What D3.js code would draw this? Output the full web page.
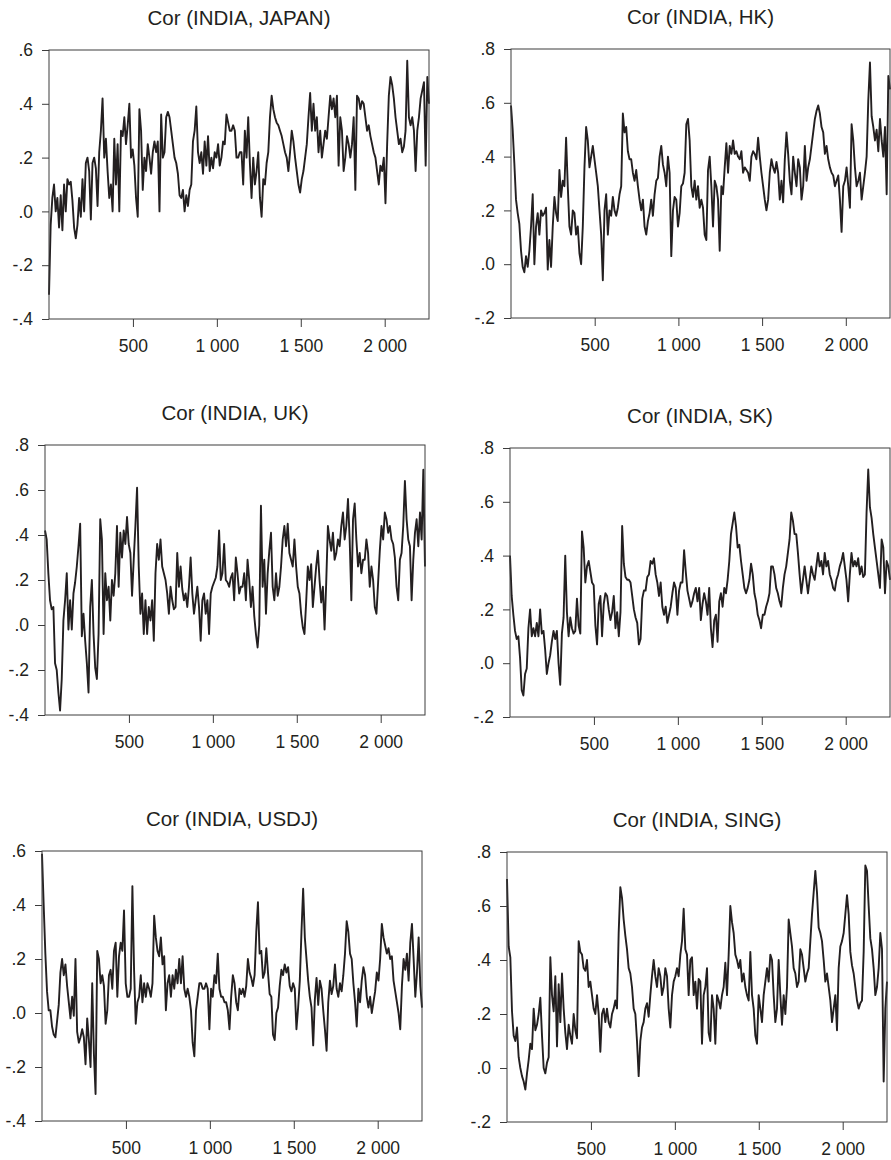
<!DOCTYPE html>
<html>
<head>
<meta charset="utf-8">
<script src="https://cdn.jsdelivr.net/npm/d3@7"></script>
<style>
  body { margin: 0; background: #fff; }
  svg { display: block; font-family: "Liberation Sans", Arial, sans-serif; }
  .frame { fill: none; stroke: #3c3c3c; stroke-width: 1; }
  .series { fill: none; stroke: #231f20; stroke-width: 1.9; stroke-linejoin: round; }
  .title { font-size: 20.5px; fill: #231f20; }
  .tick text { font-size: 17.5px; fill: #231f20; }
  .tick line { stroke: #3c3c3c; }
</style>
</head>
<body>
<script>
// Rolling correlations of INDIA with six markets (one value every ~10 obs)
var titles = ["Cor (INDIA, JAPAN)", "Cor (INDIA, HK)", "Cor (INDIA, UK)",
              "Cor (INDIA, SK)", "Cor (INDIA, USDJ)", "Cor (INDIA, SING)"];
var yDomains = [[-0.4, 0.6], [-0.2, 0.8], [-0.4, 0.8], [-0.2, 0.8], [-0.4, 0.6], [-0.2, 0.8]];
var xTicks = [500, 1000, 1500, 2000];
var xTickLabels = ["500", "1 000", "1 500", "2 000"];
var nObs = 2264;

var japan = [-.31,-.05,.05,.1,.0,.05,-.06,.06,-.07,.1,.0,.12,.1,.11,.04,-.06,-.1,-.05,.05,-.02,.12,.0,.18,.2,.15,-.03,.18,.2,.16,.02,.22,.3,.42,.2,.27,.15,.05,.1,.0,.27,.1,.25,.0,.3,.28,.35,.25,.32,.4,.2,.23,.17,.05,-.02,.38,.3,.08,.2,.15,.25,.2,.14,.22,.26,.22,.26,.0,.36,.2,.22,.35,.37,.35,.3,.25,.2,.18,.14,.06,.05,.08,.0,.06,.02,.08,.1,.26,.3,.39,.22,.18,.22,.14,.26,.17,.28,.15,.2,.16,.22,.2,.25,.17,.2,.26,.25,.36,.33,.3,.3,.32,.3,.2,.2,.22,
  .22,.1,.3,.2,.35,.18,.05,.2,.1,.15,.22,.05,-.02,.12,.1,.18,.22,.35,.43,.38,.35,.33,.32,.3,.28,.25,.22,.2,.15,.22,.3,.26,.2,.15,.1,.07,.12,.15,.2,.25,.35,.44,.3,.4,.3,.35,.22,.3,.2,.25,.3,.27,.35,.43,.38,.42,.35,.43,.17,.35,.3,.15,.2,.28,.25,.2,.25,.35,.08,.43,.42,.38,.41,.4,.35,.3,.32,.28,.25,.22,.2,.15,.1,.17,.15,.2,.03,.25,.43,.5,.47,.42,.35,.3,.25,.27,.22,.24,.3,.56,.35,.32,.35,.3,.15,.3,.35,.42,.45,.48,.17,.5,.4];

var hk = [.59,.5,.375,.24,.19,.15,.05,-.01,-.03,.03,-.01,.05,.14,.26,.0,.14,.19,.11,.2,.18,.19,.21,-.02,.09,-.01,.14,.25,.19,.16,.35,.25,.31,.29,.47,.29,.14,.11,.2,.19,.11,.14,.04,.0,.14,.36,.51,.46,.36,.4,.44,.39,.34,.29,.2,.11,-.06,.2,.26,.11,.2,.18,.25,.2,.18,.21,.26,.29,.56,.49,.51,.42,.39,.39,.34,.31,.35,.29,.24,.2,.24,.14,.11,.16,.19,.24,.18,.26,.31,.32,.4,.44,.37,.34,.29,.4,.34,.03,.2,.25,.24,.14,.19,.29,.3,.34,.52,.54,.46,
  .29,.25,.31,.24,.29,.21,.24,.21,.11,.09,.35,.4,.29,.14,.31,.29,.24,.05,.29,.26,.36,.45,.34,.44,.41,.46,.41,.42,.4,.39,.42,.34,.36,.35,.34,.31,.4,.42,.41,.39,.47,.4,.34,.29,.24,.2,.24,.34,.39,.36,.34,.38,.34,.24,.31,.23,.39,.49,.41,.31,.26,.4,.34,.29,.39,.36,.24,.29,.44,.31,.36,.39,.44,.49,.54,.57,.59,.56,.51,.49,.41,.44,.39,.36,.34,.33,.29,.31,.33,.24,.12,.29,.31,.36,.29,.21,.52,.46,.36,.29,.31,.34,.24,.29,.34,.4,.61,.75,.55,.51,.46,.5,.42,.54,.46,.4,.51,.26,.7,.65];

var uk = [.42,.38,.23,.11,.07,.08,-.17,-.2,-.3,-.38,-.24,.02,.11,.23,-.02,.11,-.02,.14,.19,.26,.35,.45,-.05,.05,-.07,-.17,-.3,.08,.2,-.04,-.19,-.24,-.04,.47,.38,-.04,.23,.11,.17,.02,.2,.13,.23,.44,.17,.41,.3,.42,.36,.48,.36,.32,.13,.29,.44,.61,.26,.05,.14,-.04,.11,-.04,.08,.02,.11,-.07,.23,.36,.29,.38,.26,.23,.2,.14,.05,.17,.11,.07,.08,.32,.17,.26,.16,.11,.14,.08,.17,.3,.14,.05,.11,.17,.08,-.07,.11,.14,.05,.11,-.04,.14,.17,.19,.21,.26,.42,.2,.23,.36,.2,.19,.17,.21,.23,.11,.3,.23,.14,.17,
  .17,.23,.11,.29,.2,.08,.17,.04,-.04,-.1,.0,.53,.17,.29,.05,.23,.33,.41,.17,.11,.23,.13,.17,.26,.38,.44,.35,.45,.32,.29,.26,.38,.26,.17,.14,.05,-.01,-.04,.1,.26,.2,.27,.08,.17,.26,.33,.2,.1,.17,-.02,.19,.44,.38,.33,.41,.29,.32,.38,.35,.44,.5,.38,.44,.56,.38,.11,.47,.54,.38,.26,.32,.23,.29,.29,.38,.32,.17,.26,.2,.08,.05,.19,.33,.44,.38,.5,.47,.41,.44,.38,.36,.3,.17,.11,.29,.32,.44,.64,.47,.38,.35,.11,.29,.41,.47,.35,.5,.38,.69,.26];

var sk = [.4,.25,.18,.12,.09,.1,.02,-.1,-.12,-.04,-.02,.13,.2,.1,.13,.1,.15,.1,.2,.11,.12,.05,-.04,.0,.03,.08,.12,.09,.12,.0,-.08,.11,.17,.4,.19,.1,.17,.13,.11,.12,.24,.14,.11,.49,.43,.3,.36,.38,.34,.3,.29,.14,.07,.22,.25,.1,.22,.26,.25,.2,.16,.19,.25,.13,.19,.1,.19,.51,.37,.32,.31,.31,.3,.25,.2,.17,.15,.07,.09,.24,.27,.27,.32,.33,.38,.37,.39,.33,.3,.25,.3,.21,.18,.21,.15,.18,.21,.26,.3,.28,.18,.27,.3,.3,.42,.34,.27,.24,.21,
  .23,.26,.28,.23,.28,.16,.22,.26,.23,.18,.28,.13,.06,.16,.18,.08,.23,.26,.21,.28,.26,.31,.38,.48,.52,.56,.51,.43,.44,.38,.33,.28,.26,.28,.31,.37,.33,.26,.23,.18,.16,.13,.18,.18,.21,.23,.26,.36,.36,.33,.28,.26,.23,.21,.28,.33,.36,.41,.46,.56,.53,.48,.48,.41,.33,.26,.31,.36,.31,.26,.31,.36,.33,.31,.36,.41,.36,.38,.33,.41,.36,.38,.33,.31,.28,.27,.31,.33,.36,.38,.41,.36,.31,.23,.33,.41,.36,.38,.36,.39,.33,.36,.32,.33,.56,.72,.58,.54,.48,.43,.38,.33,.28,.46,.43,.26,.38,.36,.31];

var usdj = [.59,.4,.22,.08,.01,.01,-.05,-.08,-.09,-.03,.03,.15,.2,.14,.18,.1,.04,-.02,.06,-.01,.2,-.07,-.11,-.09,-.06,-.09,-.19,-.02,-.1,-.2,.11,-.15,-.3,.23,.2,.11,.14,.1,-.04,.01,.14,.16,.09,.23,.26,.06,.21,.26,.23,.38,.11,.06,.06,.09,.47,.16,-.04,.04,.06,.14,.04,.11,.06,.11,.09,.06,.11,.36,.28,.23,.21,.28,.18,.21,.01,.11,.14,.06,.14,.09,.16,.11,.2,.11,.21,.09,.06,.09,.06,.01,-.11,-.16,.01,.06,.11,.11,.09,.09,.11,.09,-.06,.09,.06,.14,.11,.22,.09,.06,.06,.04,.04,.01,-.06,.06,.14,.11,.04,.01,.09,
  .07,.09,.06,.1,.2,.15,.13,.1,.14,.3,.41,.22,.23,.13,.15,.24,.15,.07,.06,-.08,-.1,.0,.02,.1,.16,.14,.18,.15,.17,.1,.08,.11,.09,-.06,.02,.12,.3,.46,.28,.2,.12,.06,.02,-.12,.05,.13,.03,.12,.09,.01,-.06,-.14,.04,.12,.07,.1,.18,.09,.06,.11,.08,.14,.22,.34,.3,.22,.2,.11,.04,-.05,.09,.04,.12,.17,.14,.06,.02,.06,.0,.04,.08,.15,.12,.2,.33,.28,.25,.22,.24,.2,.21,.12,.08,.04,.0,-.06,.1,.2,.16,.22,.12,.26,.33,.2,.06,.15,.28,.1,.02];

var sing = [.7,.45,.41,.21,.12,.1,.15,.04,.0,-.03,-.05,-.08,-.02,.03,.09,.07,.22,.14,.16,.2,.26,.12,.0,-.02,.02,.04,.41,.27,.21,.34,.08,.31,.17,.35,.22,.13,.07,.16,.12,.09,.2,.14,.11,.47,.43,.42,.37,.36,.4,.3,.32,.27,.22,.2,.27,.2,.06,.2,.22,.17,.22,.17,.15,.2,.22,.25,.22,.5,.67,.63,.55,.49,.44,.37,.35,.3,.22,.2,.1,-.03,.1,.15,.17,.22,.24,.19,.27,.34,.4,.34,.3,.37,.34,.27,.3,.37,.34,.22,.15,.27,.32,.34,.37,.34,.42,.47,.59,.44,.42,.27,
  .4,.41,.27,.32,.22,.33,.32,.09,.27,.3,.37,.13,.1,.27,.22,.09,.27,.25,.22,.27,.3,.39,.27,.42,.6,.54,.5,.42,.4,.37,.4,.32,.35,.3,.27,.25,.43,.27,.22,.12,.09,.27,.22,.17,.27,.32,.37,.32,.42,.4,.27,.17,.22,.4,.27,.16,.27,.2,.3,.55,.5,.45,.37,.35,.3,.32,.44,.42,.37,.32,.35,.37,.47,.57,.65,.73,.65,.52,.5,.47,.4,.32,.35,.3,.25,.17,.22,.27,.14,.37,.45,.47,.5,.57,.64,.57,.43,.38,.35,.3,.25,.22,.24,.25,.43,.75,.73,.6,.48,.44,.37,.27,.3,.37,.5,.44,-.05,.22,.32];

var series = [japan, hk, uk, sk, usdj, sing];

// Frame box of every panel, in pixels
var boxes = [
  {left: 49, top: 50, right: 429, bottom: 319},
  {left: 511, top: 49, right: 890, bottom: 318},
  {left: 45, top: 445, right: 425, bottom: 715},
  {left: 510, top: 448, right: 890, bottom: 717},
  {left: 42, top: 851, right: 422, bottom: 1121},
  {left: 507, top: 852, right: 887, bottom: 1122}
];

var svg = d3.select("body")
            .append("svg")
            .attr("width", 891)
            .attr("height", 1160);

function yLabel(d) {
  var v = Math.round(d * 10) / 10;
  return (v < 0 ? "-" : "") + Math.abs(v).toFixed(1).replace(/^0/, "");
}

function drawPanel(values, title, yDomain, box) {
  var g = svg.append("g");

  var scaleX = d3.scaleLinear()
                 .domain([0, nObs])
                 .range([box.left, box.right]);
  var scaleY = d3.scaleLinear()
                 .domain(yDomain)
                 .range([box.bottom, box.top]);

  var step = nObs / (values.length - 1);
  var line = d3.line()
               .x(function(d, i) { return scaleX(i * step); })
               .y(function(d) { return scaleY(d); });

  g.append("path")
   .datum(values)
   .attr("class", "series")
   .attr("d", line);

  g.append("rect")
   .attr("class", "frame")
   .attr("x", box.left)
   .attr("y", box.top)
   .attr("width", box.right - box.left)
   .attr("height", box.bottom - box.top);

  // y-axis
  var yTicks = d3.range(Math.round(yDomain[0] * 10), Math.round(yDomain[1] * 10) + 1, 2)
                 .map(function(d) { return d / 10; });
  var yAxis = d3.axisLeft(scaleY)
                .tickValues(yTicks)
                .tickSize(7)
                .tickPadding(9)
                .tickFormat(yLabel);
  g.append("g")
   .attr("transform", "translate(" + box.left + ",0)")
   .call(yAxis)
   .call(function(a) { a.select(".domain").remove(); });

  // x-axis
  var xAxis = d3.axisBottom(scaleX)
                .tickValues(xTicks)
                .tickSize(8)
                .tickPadding(13)
                .tickFormat(function(d, i) { return xTickLabels[i]; });
  g.append("g")
   .attr("transform", "translate(0," + box.bottom + ")")
   .call(xAxis)
   .call(function(a) { a.select(".domain").remove(); });

  // title
  g.append("text")
   .attr("class", "title")
   .attr("x", (box.left + box.right) / 2)
   .attr("y", box.top - 25)
   .attr("text-anchor", "middle")
   .text(title);
}

for (var p = 0; p < series.length; p++) {
  drawPanel(series[p], titles[p], yDomains[p], boxes[p]);
}
</script>
</body>
</html>
